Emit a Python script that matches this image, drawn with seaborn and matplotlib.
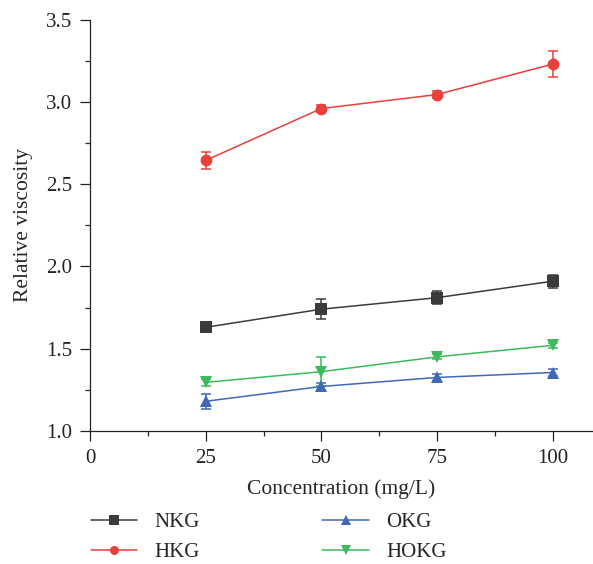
import matplotlib.pyplot as plt
import numpy as np
import pandas as pd
import seaborn as sns

CONC = [25, 50, 75, 100]
SERIES = ["NKG", "HKG", "OKG", "HOKG"]
NKG = [1.63, 1.74, 1.81, 1.91]
NKG_ERR = [0.03, 0.06, 0.04, 0.04]
HKG = [2.645, 2.96, 3.045, 3.23]
HKG_ERR = [0.05, 0.02, 0.02, 0.08]
OKG = [1.18, 1.27, 1.325, 1.355]
OKG_ERR = [0.045, 0.02, 0.02, 0.02]
HOKG = [1.295, 1.36, 1.45, 1.52]
HOKG_ERR = [0.02, 0.09, 0.015, 0.015]

COLORS = {"NKG": "#3b3b3b", "HKG": "#e8403a", "OKG": "#4068b5", "HOKG": "#3dba5c"}
MARKERS = {"NKG": "s", "HKG": "o", "OKG": "^", "HOKG": "v"}

values = {"NKG": (NKG, NKG_ERR), "HKG": (HKG, HKG_ERR),
          "OKG": (OKG, OKG_ERR), "HOKG": (HOKG, HOKG_ERR)}
df = pd.DataFrame([
    {"conc": c, "series": s, "value": v, "err": e}
    for s in SERIES for c, v, e in zip(CONC, *values[s])
])

sns.set_style("ticks")
plt.rcParams["font.family"] = ["Liberation Serif", "DejaVu Serif"]
plt.rcParams["font.size"] = 15

fig = plt.figure(figsize=(5.93, 5.64), dpi=100)
ax = fig.add_axes([0.152, 0.236, 0.846, 0.729])

for s in SERIES:
    sub = df[df["series"] == s]
    ax.errorbar(sub["conc"], sub["value"], yerr=sub["err"], fmt="none",
                ecolor=COLORS[s], elinewidth=1.1, capsize=3.5, capthick=1.1, zorder=2)
sns.lineplot(data=df, x="conc", y="value", hue="series", style="series",
             palette=COLORS, markers=MARKERS, dashes=False, markersize=8.5,
             markeredgewidth=0, linewidth=1.1, ax=ax, legend=False, zorder=3)

ax.set_xlim(0, 108.5)
ax.set_ylim(1.0, 3.5)
ax.set_xticks([0, 25, 50, 75, 100])
ax.set_xticks([12.5, 37.5, 62.5, 87.5], minor=True)
ax.set_yticks([1.0, 1.5, 2.0, 2.5, 3.0, 3.5])
ax.set_yticks(np.arange(1.25, 3.5, 0.5), minor=True)
ax.yaxis.set_major_formatter(plt.FormatStrFormatter("%.1f"))
ax.tick_params(which="major", length=7, width=0.9, direction="out", labelsize=15,
               colors="#222222", pad=6)
ax.tick_params(which="minor", length=3.5, width=0.9, direction="out")
for sp in ["top", "right"]:
    ax.spines[sp].set_visible(False)
for sp in ["left", "bottom"]:
    ax.spines[sp].set_linewidth(0.9)
    ax.spines[sp].set_color("#222222")
ax.set_xlabel("Concentration (mg/L)", fontsize=15.5, labelpad=8)
ax.set_ylabel("Relative viscosity", fontsize=15.5, labelpad=9)

handles = [plt.Line2D([], [], color=COLORS[s], marker=MARKERS[s], markersize=6.5,
                      markeredgewidth=0, linewidth=1.1) for s in SERIES]
fig.legend(handles, SERIES, ncol=2, loc="upper left", bbox_to_anchor=(0.121, 0.125),
           frameon=False, fontsize=15, handlelength=2.25, columnspacing=5.9,
           labelspacing=0.5, handletextpad=0.8)

fig.savefig("out.png", dpi=100)
